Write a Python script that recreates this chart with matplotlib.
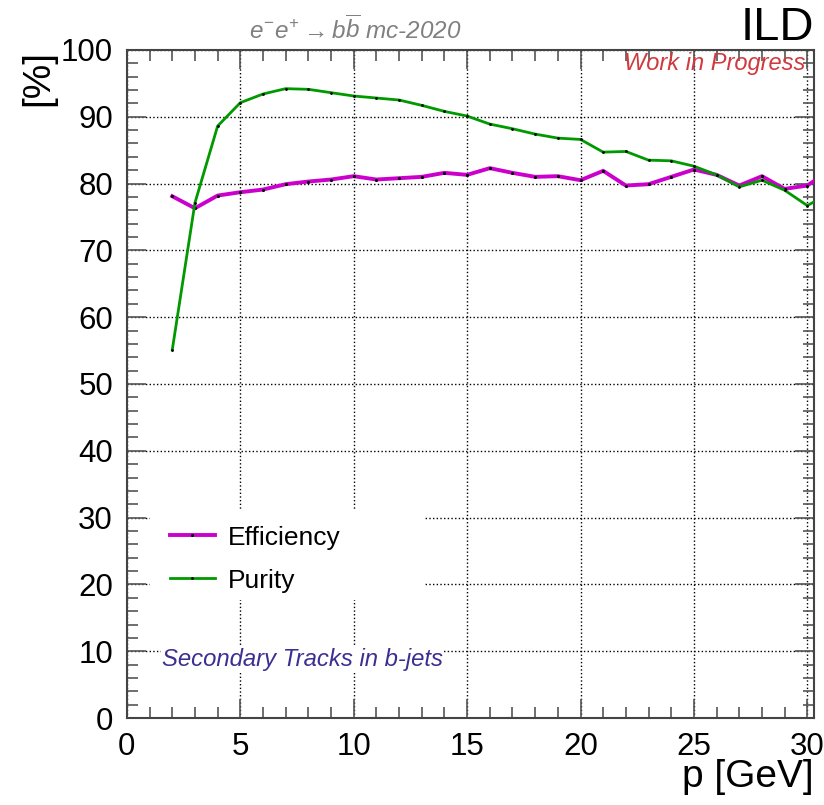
import matplotlib.pyplot as plt
from matplotlib.patches import Rectangle
from matplotlib.ticker import MultipleLocator

plt.rcParams['font.family'] = ['Liberation Sans', 'DejaVu Sans']
plt.rcParams['mathtext.fontset'] = 'custom'
plt.rcParams['mathtext.rm'] = 'Liberation Sans'
plt.rcParams['mathtext.it'] = 'Liberation Sans:italic'

# momentum bins [GeV]
p = [2, 3, 4, 5, 6, 7, 8, 9, 10, 11, 12, 13, 14, 15, 16, 17, 18, 19, 20,
     21, 22, 23, 24, 25, 26, 27, 28, 29, 30, 31]
efficiency = [78.1, 76.3, 78.2, 78.7, 79.1, 79.9, 80.3, 80.6, 81.1, 80.6,
              80.8, 81.0, 81.6, 81.3, 82.3, 81.6, 81.0, 81.1, 80.5, 81.9,
              79.7, 79.9, 81.0, 82.1, 81.3, 79.7, 81.1, 79.2, 79.7, 82.0]
purity = [55.1, 77.1, 88.6, 92.1, 93.4, 94.2, 94.1, 93.6, 93.1, 92.8,
          92.5, 91.7, 90.8, 90.1, 88.9, 88.2, 87.4, 86.8, 86.6, 84.7,
          84.8, 83.5, 83.4, 82.6, 81.3, 79.5, 80.5, 79.0, 76.7, 78.6]

fig = plt.figure(figsize=(8.24, 8.05), dpi=100)
ax = fig.add_axes([0.154, 0.108, 0.834, 0.830])

ax.plot(p, efficiency, color='#cc00cc', lw=2.8, marker='.', ms=2.5,
        mec='black', mfc='black', label='Efficiency', zorder=3)
ax.plot(p, purity, color='#009900', lw=2.0, marker='.', ms=2,
        mec='black', mfc='black', label='Purity', zorder=4)

ax.set_xlim(0, 30.3)
ax.set_ylim(0, 100)
ax.xaxis.set_major_locator(MultipleLocator(5))
ax.xaxis.set_minor_locator(MultipleLocator(1))
ax.yaxis.set_major_locator(MultipleLocator(10))
ax.yaxis.set_minor_locator(MultipleLocator(2))
ax.tick_params(which='both', direction='in', top=True, right=True,
               labelsize=22.5, width=1.2, color='#555555')
ax.tick_params(which='major', length=14)
ax.tick_params(which='minor', length=8)
ax.tick_params(axis='x', pad=10)
ax.tick_params(axis='y', pad=10)
for s in ax.spines.values():
    s.set_linewidth(1.5)
    s.set_color('#444444')
ax.grid(True, which='major', ls=':', lw=1.0, color='black')

ax.set_xlabel('p [GeV]', fontsize=28, loc='right', labelpad=-2)
ax.set_ylabel('[%]', fontsize=28, loc='top', labelpad=3)

# white box behind the legend hides the grid there
ax.add_patch(Rectangle((0.033, 0.177), 0.40, 0.135, transform=ax.transAxes,
                       facecolor='white', edgecolor='none', zorder=2))
leg = ax.legend(loc='upper left', bbox_to_anchor=(0.028, 0.3235), fontsize=19,
                frameon=False, handlelength=1.7, labelspacing=0.72,
                borderpad=0.4, handletextpad=0.5)
leg.set_zorder(5)

ax.text(0.051, 0.087, 'Secondary Tracks in b-jets', transform=ax.transAxes,
        fontsize=17.2, style='italic', color='#3b2f91', va='center', zorder=5,
        bbox=dict(facecolor='white', edgecolor='none', pad=1))
ax.text(0.987, 0.979, 'Work in Progress', transform=ax.transAxes,
        fontsize=17, style='italic', color='#d03a3f', ha='right',
        va='center', zorder=5)

fig.text(0.431, 0.963, r'$e^{-}e^{+} \rightarrow b\overline{b}$ mc-2020',
         fontsize=17.5, style='italic', color='#808080', ha='center',
         va='center')
fig.text(0.988, 0.950, 'ILD', fontsize=34, ha='right', va='baseline',
         color='black')

fig.savefig('out.png', dpi=100)
